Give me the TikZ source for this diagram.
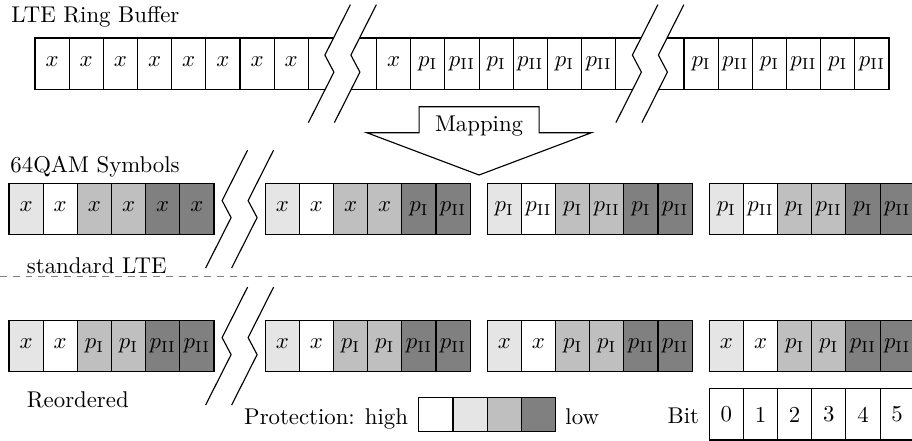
\documentclass[tikz,border=0pt]{standalone}
\newcommand\X{$x$}
\newcommand\PI{$p_{\mathrm{I}}$}
\newcommand\PII{$p_{\mathrm{II}}$}
\newcommand\cw{34.16}
% zigzag break line centred at (#1,#2)
\newcommand\zzline[2]{\draw[zz] (#1+21,#2-59) -- (#1-4.5,#2-8.5) -- (#1+4.5,#2+8.5) -- (#1-21,#2+59);}
% group of six 64QAM symbol bits
\newcommand\qgroup[9]{%
  \node[cell,fill=black!10] (#1c0) at (#2,#3) {#4};
  \node[cell,fill=white]    (#1c1) at (#2+\cw,#3) {#5};
  \node[cell,fill=black!25] (#1c2) at (#2+2*\cw,#3) {#6};
  \node[cell,fill=black!25] (#1c3) at (#2+3*\cw,#3) {#7};
  \node[cell,fill=black!50] (#1c4) at (#2+4*\cw,#3) {#8};
  \node[cell,fill=black!50] (#1c5) at (#2+5*\cw,#3) {#9};}
\begin{document}
\begin{tikzpicture}[x=0.4386pt,y=-0.4386pt,
  cellbase/.style={draw, line width=0.5pt, minimum width=14.98pt, minimum height=22.47pt,
    inner sep=0pt, outer sep=0pt, anchor=north west},
  cell/.style={cellbase, text height=1ex, text depth=0.45ex},
  sq/.style={draw, line width=0.5pt, minimum width=14.98pt, minimum height=14.98pt,
    inner sep=0pt, outer sep=0pt, anchor=north west},
  lbl/.style={anchor=base west, inner sep=0pt},
  zz/.style={line width=0.5pt},
  sep/.style={black!50, line width=0.6pt, dash pattern=on 3pt off 2.6pt}]
\useasboundingbox (0,0) rectangle (912,441);
\clip (0,0) rectangle (912,441);

% ---- LTE ring buffer ----
\node[lbl] (title) at (11,22) {LTE Ring Buffer};
\foreach \k/\t in {0/\X,1/\X,2/\X,3/\X,4/\X,5/\X,6/\X,7/\X,
   10/\X,11/\PI,12/\PII,13/\PI,14/\PII,15/\PI,16/\PII,
   19/\PI,20/\PII,21/\PI,22/\PII,23/\PI,24/\PII}
  \node[cell] (r1c\k) at (35+\k*\cw,38) {\t};
\node[cell, minimum width=29.96pt] (brk1) at (35+8*\cw,38) {};
\node[cell, minimum width=29.96pt] (brk2) at (35+17*\cw,38) {};
\foreach \c in {342.4,649.9}{
  \fill[white] (\c-13+21,4.6) -- (\c-13-4.5,55.1) -- (\c-13+4.5,72.1) -- (\c-13-21,122.6)
     -- (\c+13-21,122.6) -- (\c+13+4.5,72.1) -- (\c+13-4.5,55.1) -- (\c+13+21,4.6) -- cycle;
  \zzline{\c-13}{63.6}
  \zzline{\c+13}{63.6}
}

% ---- mapping arrow ----
\draw[line width=0.5pt, fill=white] (419.1,106.7) -- (539.1,106.7) -- (539.1,132.7) -- (591.4,132.7)
  -- (479.1,175) -- (366.8,132.7) -- (419.1,132.7) -- cycle;
\node[anchor=base, inner sep=0pt] (map) at (479.1,131) {Mapping};

% ---- 64QAM symbols, standard LTE ----
\node[lbl] (qam) at (10,172.5) {64QAM Symbols};
\qgroup{sa}{9}{183.5}{\X}{\X}{\X}{\X}{\X}{\X}
\qgroup{sb}{265.2}{183.5}{\X}{\X}{\X}{\X}{\PI}{\PII}
\qgroup{sc}{487.24}{183.5}{\PI}{\PII}{\PI}{\PII}{\PI}{\PII}
\qgroup{sd}{709.28}{183.5}{\PI}{\PII}{\PI}{\PII}{\PI}{\PII}
\zzline{226.6}{209.1}
\zzline{252.6}{209.1}
\node[lbl] (std) at (26.5,273.5) {standard LTE};

% ---- separator ----
\coordinate (sepl) at (0,276.7);
\coordinate (sepr) at (912,276.7);
\draw[sep] (sepl) -- (sepr);

% ---- reordered ----
\qgroup{ra}{9}{320.5}{\X}{\X}{\PI}{\PI}{\PII}{\PII}
\qgroup{rb}{265.2}{320.5}{\X}{\X}{\PI}{\PI}{\PII}{\PII}
\qgroup{rc}{487.24}{320.5}{\X}{\X}{\PI}{\PI}{\PII}{\PII}
\qgroup{rd}{709.28}{320.5}{\X}{\X}{\PI}{\PI}{\PII}{\PII}
\zzline{226.6}{346.1}
\zzline{252.6}{346.1}
\node[lbl] (reo) at (26.5,407.5) {Reordered};

% ---- legend ----
\foreach \c/\f in {0/white,1/black!10,2/black!25,3/black!50}
  \node[sq,fill=\f] (leg\c) at (418.9+\c*\cw,397.3) {};
\node[anchor=base east, inner sep=0pt] (prot) at (408.5,424.5) {Protection: high};
\node[anchor=base west, inner sep=0pt] (low) at (565,424.5) {low};
\node[anchor=base east, inner sep=0pt] (bitlbl) at (699.5,423.5) {Bit};
\foreach \c in {0,...,5}
  \node[cellbase] (bit\c) at (709.28+\c*\cw,388.8) {\c};
\end{tikzpicture}
\end{document}
